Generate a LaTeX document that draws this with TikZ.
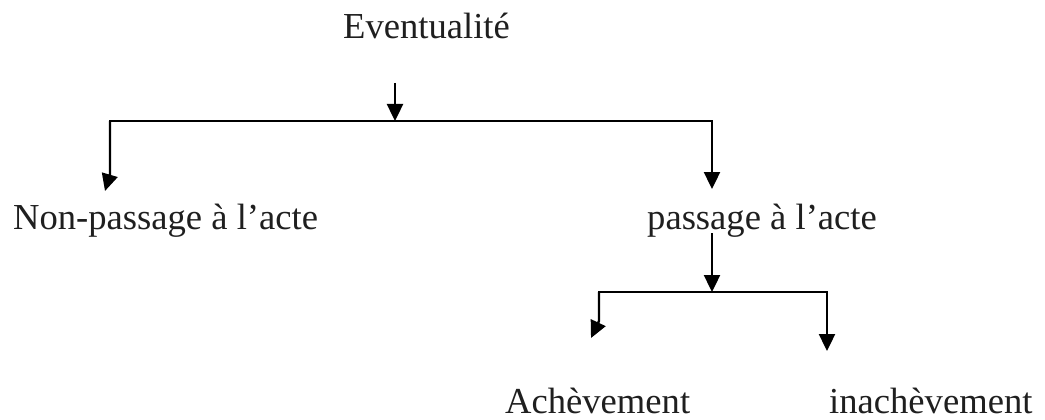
\documentclass[tikz,border=0pt]{standalone}
\usepackage{fontspec}
\setmainfont{Liberation Serif}
\usetikzlibrary{arrows.meta}
\begin{document}
\begin{tikzpicture}[x=1pt,y=-1pt,
  lbl/.style={anchor=base west, inner sep=0pt, text=black!88, font=\fontsize{36.6}{40}\selectfont},
  conn/.style={line width=2.4pt, -{Triangle[length=17pt,width=16pt]}},
  bar/.style={line width=2.6pt, line cap=rect}]
\useasboundingbox (0,0) rectangle (1045,420);
\fill[white] (0,0) rectangle (1045,420);
% labels
\node[lbl] (ev) at (343,39) {Eventualité};
\node[lbl] (non) at (13,229) {Non-passage à l’acte};
\node[lbl] (pass) at (647,229) {passage à l’acte};
\node[lbl] (ach) at (505,413) {Achèvement};
\node[lbl] (inach) at (829,413) {inachèvement};
% first branching
\coordinate (t0) at (395,83);
\coordinate (j1) at (395,121);
\coordinate (l1) at (110,121);
\coordinate (r1) at (712,121);
\coordinate (lb1) at (110,174);
\coordinate (lt1) at (105,191);
\coordinate (rt1) at (712,189);
\draw[bar] (l1) -- (r1);
\draw[conn] (t0) -- (j1);
\draw[conn] (l1) -- (lb1) -- (lt1);
\draw[conn] (r1) -- (rt1);
% second branching
\coordinate (t2) at (712,233);
\coordinate (j2) at (712,292);
\coordinate (l2) at (599,292);
\coordinate (r2) at (827,292);
\coordinate (lb2) at (599,321);
\coordinate (lt2) at (591,338);
\coordinate (rt2) at (827,351);
\draw[bar] (l2) -- (r2);
\draw[conn] (t2) -- (j2);
\draw[conn] (l2) -- (lb2) -- (lt2);
\draw[conn] (r2) -- (rt2);
\end{tikzpicture}
\end{document}
